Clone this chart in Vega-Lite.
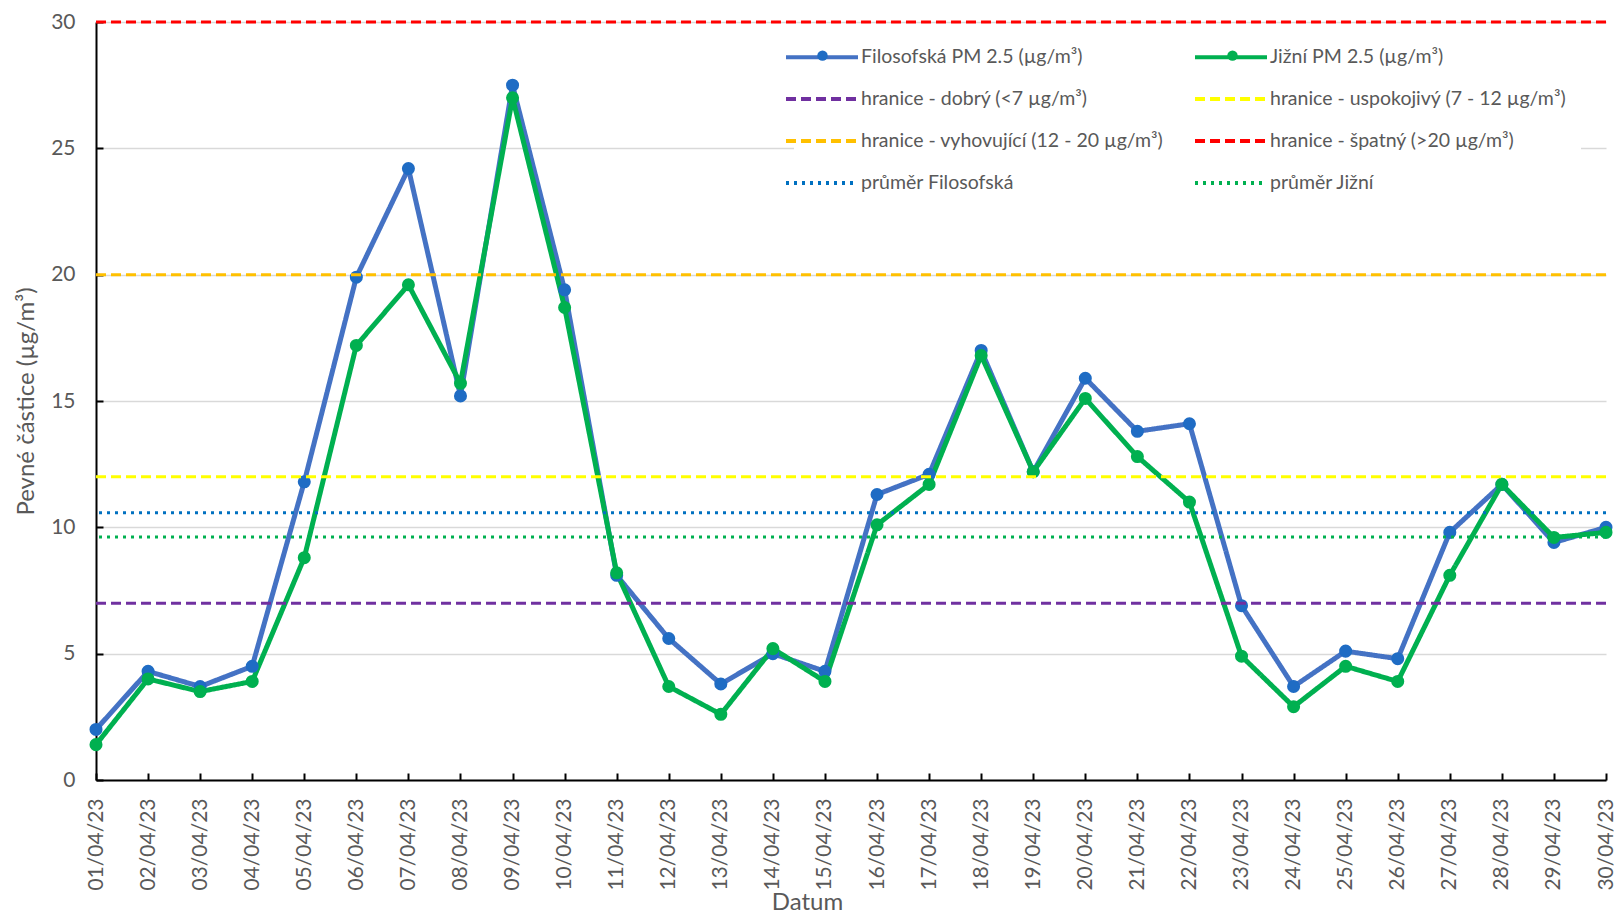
{
  "$schema": "https://vega.github.io/schema/vega-lite/v6.json",
  "width": 1510,
  "height": 758,
  "autosize": {"type": "none"},
  "padding": {"left": 96, "top": 22, "right": 8, "bottom": 135},
  "background": "white",
  "config": {
    "font": "Lato",
    "view": {"stroke": null},
    "axis": {"labelFont": "Lato", "titleFont": "Lato", "labelColor": "#595959", "titleColor": "#595959", "titleFontWeight": "normal"}
  },
  "datasets": {
    "pm": [
      {"Datum": "01/04/23", "series": "Filosofská PM 2.5 (µg/m³)", "value": 2.0},
      {"Datum": "02/04/23", "series": "Filosofská PM 2.5 (µg/m³)", "value": 4.3},
      {"Datum": "03/04/23", "series": "Filosofská PM 2.5 (µg/m³)", "value": 3.7},
      {"Datum": "04/04/23", "series": "Filosofská PM 2.5 (µg/m³)", "value": 4.5},
      {"Datum": "05/04/23", "series": "Filosofská PM 2.5 (µg/m³)", "value": 11.8},
      {"Datum": "06/04/23", "series": "Filosofská PM 2.5 (µg/m³)", "value": 19.9},
      {"Datum": "07/04/23", "series": "Filosofská PM 2.5 (µg/m³)", "value": 24.2},
      {"Datum": "08/04/23", "series": "Filosofská PM 2.5 (µg/m³)", "value": 15.2},
      {"Datum": "09/04/23", "series": "Filosofská PM 2.5 (µg/m³)", "value": 27.5},
      {"Datum": "10/04/23", "series": "Filosofská PM 2.5 (µg/m³)", "value": 19.4},
      {"Datum": "11/04/23", "series": "Filosofská PM 2.5 (µg/m³)", "value": 8.1},
      {"Datum": "12/04/23", "series": "Filosofská PM 2.5 (µg/m³)", "value": 5.6},
      {"Datum": "13/04/23", "series": "Filosofská PM 2.5 (µg/m³)", "value": 3.8},
      {"Datum": "14/04/23", "series": "Filosofská PM 2.5 (µg/m³)", "value": 5.0},
      {"Datum": "15/04/23", "series": "Filosofská PM 2.5 (µg/m³)", "value": 4.3},
      {"Datum": "16/04/23", "series": "Filosofská PM 2.5 (µg/m³)", "value": 11.3},
      {"Datum": "17/04/23", "series": "Filosofská PM 2.5 (µg/m³)", "value": 12.1},
      {"Datum": "18/04/23", "series": "Filosofská PM 2.5 (µg/m³)", "value": 17.0},
      {"Datum": "19/04/23", "series": "Filosofská PM 2.5 (µg/m³)", "value": 12.2},
      {"Datum": "20/04/23", "series": "Filosofská PM 2.5 (µg/m³)", "value": 15.9},
      {"Datum": "21/04/23", "series": "Filosofská PM 2.5 (µg/m³)", "value": 13.8},
      {"Datum": "22/04/23", "series": "Filosofská PM 2.5 (µg/m³)", "value": 14.1},
      {"Datum": "23/04/23", "series": "Filosofská PM 2.5 (µg/m³)", "value": 6.9},
      {"Datum": "24/04/23", "series": "Filosofská PM 2.5 (µg/m³)", "value": 3.7},
      {"Datum": "25/04/23", "series": "Filosofská PM 2.5 (µg/m³)", "value": 5.1},
      {"Datum": "26/04/23", "series": "Filosofská PM 2.5 (µg/m³)", "value": 4.8},
      {"Datum": "27/04/23", "series": "Filosofská PM 2.5 (µg/m³)", "value": 9.8},
      {"Datum": "28/04/23", "series": "Filosofská PM 2.5 (µg/m³)", "value": 11.7},
      {"Datum": "29/04/23", "series": "Filosofská PM 2.5 (µg/m³)", "value": 9.4},
      {"Datum": "30/04/23", "series": "Filosofská PM 2.5 (µg/m³)", "value": 10.0},
      {"Datum": "01/04/23", "series": "Jižní PM 2.5 (µg/m³)", "value": 1.4},
      {"Datum": "02/04/23", "series": "Jižní PM 2.5 (µg/m³)", "value": 4.0},
      {"Datum": "03/04/23", "series": "Jižní PM 2.5 (µg/m³)", "value": 3.5},
      {"Datum": "04/04/23", "series": "Jižní PM 2.5 (µg/m³)", "value": 3.9},
      {"Datum": "05/04/23", "series": "Jižní PM 2.5 (µg/m³)", "value": 8.8},
      {"Datum": "06/04/23", "series": "Jižní PM 2.5 (µg/m³)", "value": 17.2},
      {"Datum": "07/04/23", "series": "Jižní PM 2.5 (µg/m³)", "value": 19.6},
      {"Datum": "08/04/23", "series": "Jižní PM 2.5 (µg/m³)", "value": 15.7},
      {"Datum": "09/04/23", "series": "Jižní PM 2.5 (µg/m³)", "value": 27.0},
      {"Datum": "10/04/23", "series": "Jižní PM 2.5 (µg/m³)", "value": 18.7},
      {"Datum": "11/04/23", "series": "Jižní PM 2.5 (µg/m³)", "value": 8.2},
      {"Datum": "12/04/23", "series": "Jižní PM 2.5 (µg/m³)", "value": 3.7},
      {"Datum": "13/04/23", "series": "Jižní PM 2.5 (µg/m³)", "value": 2.6},
      {"Datum": "14/04/23", "series": "Jižní PM 2.5 (µg/m³)", "value": 5.2},
      {"Datum": "15/04/23", "series": "Jižní PM 2.5 (µg/m³)", "value": 3.9},
      {"Datum": "16/04/23", "series": "Jižní PM 2.5 (µg/m³)", "value": 10.1},
      {"Datum": "17/04/23", "series": "Jižní PM 2.5 (µg/m³)", "value": 11.7},
      {"Datum": "18/04/23", "series": "Jižní PM 2.5 (µg/m³)", "value": 16.8},
      {"Datum": "19/04/23", "series": "Jižní PM 2.5 (µg/m³)", "value": 12.2},
      {"Datum": "20/04/23", "series": "Jižní PM 2.5 (µg/m³)", "value": 15.1},
      {"Datum": "21/04/23", "series": "Jižní PM 2.5 (µg/m³)", "value": 12.8},
      {"Datum": "22/04/23", "series": "Jižní PM 2.5 (µg/m³)", "value": 11.0},
      {"Datum": "23/04/23", "series": "Jižní PM 2.5 (µg/m³)", "value": 4.9},
      {"Datum": "24/04/23", "series": "Jižní PM 2.5 (µg/m³)", "value": 2.9},
      {"Datum": "25/04/23", "series": "Jižní PM 2.5 (µg/m³)", "value": 4.5},
      {"Datum": "26/04/23", "series": "Jižní PM 2.5 (µg/m³)", "value": 3.9},
      {"Datum": "27/04/23", "series": "Jižní PM 2.5 (µg/m³)", "value": 8.1},
      {"Datum": "28/04/23", "series": "Jižní PM 2.5 (µg/m³)", "value": 11.7},
      {"Datum": "29/04/23", "series": "Jižní PM 2.5 (µg/m³)", "value": 9.6},
      {"Datum": "30/04/23", "series": "Jižní PM 2.5 (µg/m³)", "value": 9.8}
    ],
    "limits": [
      {"series": "hranice - dobrý (<7 µg/m³)", "value": 7},
      {"series": "hranice - uspokojivý (7 - 12 µg/m³)", "value": 12},
      {"series": "hranice - vyhovující (12 - 20 µg/m³)", "value": 20},
      {"series": "hranice - špatný (>20 µg/m³)", "value": 30},
      {"series": "průměr Filosofská", "value": 10.58},
      {"series": "průměr Jižní", "value": 9.62}
    ]
  },
  "encoding": {
    "y": {
      "field": "value", "type": "quantitative",
      "scale": {"domain": [0, 30], "nice": false, "zero": true},
      "axis": {
        "values": [0, 5, 10, 15, 20, 25, 30],
        "grid": true, "gridColor": "#d9d9d9", "gridWidth": 1.5,
        "domainColor": "black", "domainWidth": 2,
        "tickColor": "black", "tickWidth": 2, "tickSize": -7,
        "labelPadding": 28, "labelFontSize": 21,
        "title": "Pevné částice (µg/m³)", "titleFontSize": 24,
        "titleX": -70, "titleY": 379, "titleBaseline": "middle", "titleAngle": -90
      }
    }
  },
  "layer": [
    {
      "data": {"name": "pm"},
      "mark": {"type": "line", "strokeWidth": 5, "strokeJoin": "round"},
      "encoding": {
        "x": {
          "field": "Datum", "type": "ordinal",
          "scale": {"type": "point", "padding": 0},
          "axis": {
            "labelAngle": -90, "labelFontSize": 21, "labelPadding": 25,
            "domainColor": "black", "domainWidth": 2,
            "tickColor": "black", "tickWidth": 2, "tickSize": -7,
            "grid": false,
            "title": "Datum", "titleFontSize": 24,
            "titleX": 711, "titleY": 110, "titleBaseline": "top"
          }
        },
        "color": {
          "field": "series", "type": "nominal",
          "scale": {
            "domain": ["Filosofská PM 2.5 (µg/m³)", "hranice - dobrý (<7 µg/m³)", "hranice - vyhovující (12 - 20 µg/m³)", "průměr Filosofská", "Jižní PM 2.5 (µg/m³)", "hranice - uspokojivý (7 - 12 µg/m³)", "hranice - špatný (>20 µg/m³)", "průměr Jižní"],
            "range": ["#4472C4", "#7030A0", "#FFC000", "#0070C0", "#00B050", "#FFFF00", "#FF0000", "#00B050"]
          },
          "legend": {
            "title": null, "orient": "none", "legendX": 698, "legendY": 7,
            "columns": 2, "symbolType": "M-3,0L3,0", "symbolSize": 576,
            "symbolStrokeWidth": 4, "labelFont": "Lato", "labelFontSize": 19.5,
            "labelColor": "#595959", "labelLimit": 0, "labelOffset": 25,
            "rowPadding": 18, "columnPadding": 23,
            "fillColor": "white", "padding": 14
          }
        },
        "strokeDash": {
          "field": "series", "type": "nominal",
          "scale": {
            "domain": ["Filosofská PM 2.5 (µg/m³)", "hranice - dobrý (<7 µg/m³)", "hranice - vyhovující (12 - 20 µg/m³)", "průměr Filosofská", "Jižní PM 2.5 (µg/m³)", "hranice - uspokojivý (7 - 12 µg/m³)", "hranice - špatný (>20 µg/m³)", "průměr Jižní"],
            "range": [[1, 0], [10, 5], [10, 5], [3, 5], [1, 0], [10, 5], [10, 5], [3, 5]]
          },
          "legend": {
            "title": null, "orient": "none", "legendX": 698, "legendY": 7,
            "columns": 2, "symbolType": "M-3,0L3,0", "symbolSize": 576,
            "symbolStrokeWidth": 4, "labelFont": "Lato", "labelFontSize": 19.5,
            "labelColor": "#595959", "labelLimit": 0, "labelOffset": 25,
            "rowPadding": 18, "columnPadding": 23,
            "fillColor": "white", "padding": 14
          }
        }
      }
    },
    {
      "data": {"name": "pm"},
      "mark": {"type": "point", "filled": true, "size": 170, "opacity": 1},
      "encoding": {
        "x": {"field": "Datum", "type": "ordinal", "scale": {"type": "point", "padding": 0}},
        "fill": {
          "field": "series", "type": "nominal",
          "scale": {"domain": ["Filosofská PM 2.5 (µg/m³)", "Jižní PM 2.5 (µg/m³)"], "range": ["#1F6CC4", "#00B050"]},
          "legend": {
            "title": null, "orient": "none", "legendX": 721, "legendY": 28,
            "columns": 2, "symbolType": "circle", "symbolSize": 110,
            "symbolStrokeWidth": 0, "labelExpr": "''", "labelFontSize": 1,
            "labelOffset": 0, "columnPadding": 399, "padding": 0
          }
        }
      }
    },
    {
      "data": {"name": "limits"},
      "mark": {"type": "rule", "strokeWidth": 3},
      "encoding": {
        "color": {"field": "series", "type": "nominal"},
        "strokeDash": {"field": "series", "type": "nominal"}
      }
    }
  ]
}
